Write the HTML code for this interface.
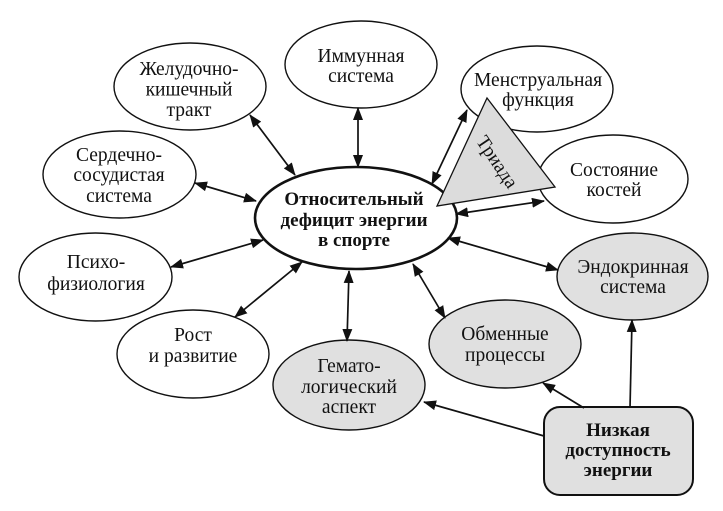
<!DOCTYPE html>
<html><head><meta charset="utf-8">
<style>
html,body{margin:0;padding:0;background:#fff;}
svg{display:block;}
text{font-family:"Liberation Serif","Noto Serif CJK SC",serif;font-size:19.5px;fill:#111;text-anchor:middle;}
.b{font-weight:bold;font-size:19px;}
</style></head>
<body>
<svg width="723" height="511" viewBox="0 0 723 511" xmlns="http://www.w3.org/2000/svg">
<defs>
<marker id="ah" markerUnits="userSpaceOnUse" markerWidth="14" markerHeight="10" refX="12" refY="5" orient="auto-start-reverse">
<path d="M0,0 L13,5 L0,10 Z" fill="#111"/>
</marker>
</defs>
<g fill="#fff" stroke="#111" stroke-width="1.4">
<ellipse cx="190" cy="86.5" rx="76" ry="43.5"/>
<ellipse cx="119.5" cy="174.5" rx="76.5" ry="43.5"/>
<ellipse cx="361" cy="64.5" rx="76" ry="43.5"/>
<ellipse cx="537" cy="89" rx="76" ry="43"/>
<ellipse cx="613" cy="179" rx="75" ry="44"/>
<ellipse cx="95.5" cy="277" rx="76.5" ry="44"/>
<ellipse cx="193" cy="354" rx="76" ry="44"/>
<ellipse cx="349" cy="385" rx="76" ry="45" fill="#e0e0e0"/>
<ellipse cx="505" cy="344" rx="76" ry="44" fill="#e0e0e0"/>
<ellipse cx="632.5" cy="276.5" rx="75.5" ry="43.5" fill="#e0e0e0"/>
<ellipse cx="356" cy="218" rx="101" ry="51" stroke-width="2.6"/>
<rect x="544" y="407" width="149" height="88" rx="16" ry="16" fill="#e0e0e0" stroke-width="2"/>
<polygon points="487,98 437,206 555,187" fill="#dcdcdc" stroke-width="1.3"/>
</g>
<g stroke="#111" stroke-width="1.7" fill="none">
<line x1="250" y1="115" x2="295" y2="175" marker-start="url(#ah)" marker-end="url(#ah)"/>
<line x1="195" y1="183" x2="256" y2="201" marker-start="url(#ah)" marker-end="url(#ah)"/>
<line x1="358" y1="108" x2="358" y2="167" marker-start="url(#ah)" marker-end="url(#ah)"/>
<line x1="467" y1="110" x2="432" y2="184" marker-start="url(#ah)" marker-end="url(#ah)"/>
<line x1="544" y1="201" x2="456" y2="214" marker-start="url(#ah)" marker-end="url(#ah)"/>
<line x1="171" y1="267" x2="263" y2="240" marker-start="url(#ah)" marker-end="url(#ah)"/>
<line x1="302" y1="262" x2="235" y2="317" marker-start="url(#ah)" marker-end="url(#ah)"/>
<line x1="349" y1="271" x2="347" y2="341" marker-start="url(#ah)" marker-end="url(#ah)"/>
<line x1="413" y1="264" x2="445" y2="318" marker-start="url(#ah)" marker-end="url(#ah)"/>
<line x1="448" y1="238" x2="558" y2="270" marker-start="url(#ah)" marker-end="url(#ah)"/>
<line x1="544" y1="436" x2="424" y2="402" marker-end="url(#ah)"/>
<line x1="584" y1="408" x2="543" y2="383" marker-end="url(#ah)"/>
<line x1="630" y1="408" x2="632" y2="320" marker-end="url(#ah)"/>
</g>
<text x="189" y="75">Желудочно-</text>
<text x="189" y="95.5">кишечный</text>
<text x="189" y="116">тракт</text>
<text x="119" y="161">Сердечно-</text>
<text x="119" y="181">сосудистая</text>
<text x="119" y="202">система</text>
<text x="361" y="62">Иммунная</text>
<text x="361" y="82">система</text>
<text x="538" y="86">Менструальная</text>
<text x="538" y="106">функция</text>
<text x="614" y="176">Состояние</text>
<text x="614" y="196">костей</text>
<text x="96" y="268">Психо-</text>
<text x="96" y="290">физиология</text>
<text x="193" y="341">Рост</text>
<text x="193" y="362">и развитие</text>
<text x="349" y="372">Гемато-</text>
<text x="349" y="393">логический</text>
<text x="349" y="413">аспект</text>
<text x="505" y="340">Обменные</text>
<text x="505" y="361">процессы</text>
<text x="633" y="273">Эндокринная</text>
<text x="633" y="293">система</text>
<text class="b" x="354" y="205">Относительный</text>
<text class="b" x="354" y="226">дефицит энергии</text>
<text class="b" x="354" y="246">в спорте</text>
<text class="b" x="618" y="436">Низкая</text>
<text class="b" x="618" y="456">доступность</text>
<text class="b" x="618" y="476">энергии</text>
<text x="0" y="0" transform="translate(497,162) rotate(56)" dy="6">Триада</text>
</svg>
</body></html>
